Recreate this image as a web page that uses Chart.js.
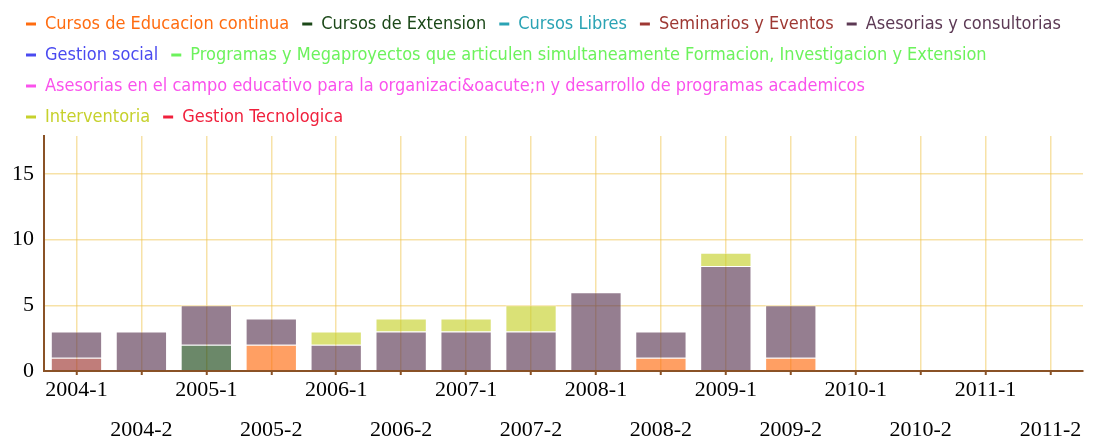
<!DOCTYPE html>
<html>
<head>
<meta charset="utf-8">
<script src="https://cdn.jsdelivr.net/npm/chart.js@4.4.1/dist/chart.umd.min.js"></script>
<style>
  html, body { margin: 0; padding: 0; background: #fff; }
  #wrap { width: 1096px; height: 438px; }
</style>
</head>
<body>
<div id="wrap"><canvas id="c"></canvas></div>
<script>
/* periodos academicos */
const PERIODS = [
  "2004-1","2004-2","2005-1","2005-2","2006-1","2006-2","2007-1","2007-2",
  "2008-1","2008-2","2009-1","2009-2","2010-1","2010-2","2011-1","2011-2",
];

const SERIES_NAMES = [
  "Cursos de Educacion continua",
  "Cursos de Extension",
  "Cursos Libres",
  "Seminarios y Eventos",
  "Asesorias y consultorias",
  "Gestion social",
  "Programas y Megaproyectos que articulen simultaneamente Formacion, Investigacion y Extension",
  "Asesorias en el campo educativo para la organizaci&oacute;n y desarrollo de programas academicos",
  "Interventoria",
  "Gestion Tecnologica",
];

const SERIES_COLORS = [
  "#ff6c10", "#1b4818", "#2aa3b4", "#9e3833", "#5c3954",
  "#4a4af0", "#6cf25c", "#fa52ec", "#c6d12c", "#f0203c",
];

/* cantidad de actividades por periodo */
const EDU_CONTINUA   = [0,0,0,2,0,0,0,0,0,1,0,1,0,0,0,0];
const EXTENSION      = [0,0,2,0,0,0,0,0,0,0,0,0,0,0,0,0];
const LIBRES         = [0,0,0,0,0,0,0,0,0,0,0,0,0,0,0,0];
const SEMINARIOS     = [1,0,0,0,0,0,0,0,0,0,0,0,0,0,0,0];
const CONSULTORIAS   = [2,3,3,2,2,3,3,3,6,2,8,4,0,0,0,0];
const GESTION_SOCIAL = [0,0,0,0,0,0,0,0,0,0,0,0,0,0,0,0];
const MEGAPROYECTOS  = [0,0,0,0,0,0,0,0,0,0,0,0,0,0,0,0];
const ASESORIAS_EDU  = [0,0,0,0,0,0,0,0,0,0,0,0,0,0,0,0];
const INTERVENTORIA  = [0,0,0,0,1,1,1,2,0,0,1,0,0,0,0,0];
const GESTION_TEC    = [0,0,0,0,0,0,0,0,0,0,0,0,0,0,0,0];

const SERIES_VALUES = [
  EDU_CONTINUA, EXTENSION, LIBRES, SEMINARIOS, CONSULTORIAS,
  GESTION_SOCIAL, MEGAPROYECTOS, ASESORIAS_EDU, INTERVENTORIA, GESTION_TEC,
];

const AXIS = "#8a5226";
const GRID = "rgba(240, 198, 80, 0.5)";
const SERIF = "'Liberation Serif', 'Times New Roman', serif";

function alpha(hex, a) {
  const n = parseInt(hex.slice(1), 16);
  return `rgba(${n >> 16},${(n >> 8) & 255},${n & 255},${a})`;
}

/* etiquetas alternadas en dos filas */
const labels = PERIODS.map((p, i) => (i % 2 ? ["", "", p] : [p]));

const datasets = SERIES_NAMES.map((name, i) => ({
  label: name,
  data: SERIES_VALUES[i],
  backgroundColor: alpha(SERIES_COLORS[i], 0.65),
  borderColor: "rgba(255,255,255,0.45)",
  borderWidth: 1,
  barPercentage: 0.79,
  categoryPercentage: 1,
  legendColor: SERIES_COLORS[i],
}));

// la fila 3 de la leyenda ocupa todo el ancho
const PAD_ROW = "\u00a0".repeat(40);

new Chart(document.getElementById("c"), {
  type: "bar",
  data: { labels, datasets },
  options: {
    responsive: true,
    maintainAspectRatio: false,
    animation: false,
    layout: { padding: { left: 13, right: 13, top: 2, bottom: 0 } },
    plugins: {
      tooltip: { enabled: false },
      legend: {
        position: "top",
        align: "start",
        labels: {
          boxWidth: 10,
          boxHeight: 3,
          padding: 13,
          font: { family: "'DejaVu Sans Condensed', 'DejaVu Sans', sans-serif", size: 18 },
          generateLabels: chart => chart.data.datasets.map((ds, i) => ({
            text: i === 7 ? ds.label + PAD_ROW : ds.label,
            fillStyle: ds.legendColor,
            strokeStyle: ds.legendColor,
            fontColor: ds.legendColor,
            lineWidth: 0,
            hidden: false,
            datasetIndex: i,
          })),
        },
      },
    },
    scales: {
      x: {
        stacked: true,
        offset: true,
        grid: { offset: false, color: GRID, lineWidth: 1.5, tickColor: AXIS, tickLength: 4, tickWidth: 2 },
        border: { color: AXIS, width: 2 },
        ticks: {
          autoSkip: false, maxRotation: 0, minRotation: 0, padding: 5, color: "#000",
          font: { family: SERIF, size: 22, lineHeight: "20px" },
        },
        afterFit: s => { s.height = 67; },
      },
      y: {
        stacked: true,
        min: 0,
        max: 17.9,
        grid: { color: GRID, lineWidth: 1.5, drawTicks: false },
        border: { color: AXIS, width: 2 },
        ticks: { stepSize: 5, padding: 10, color: "#000", font: { family: SERIF, size: 22 } },
        afterBuildTicks: ax => { ax.ticks = ax.ticks.filter(t => t.value % 5 === 0); },
        afterFit: s => { s.width = 31; },
      },
    },
  },
});
</script>
</body>
</html>
